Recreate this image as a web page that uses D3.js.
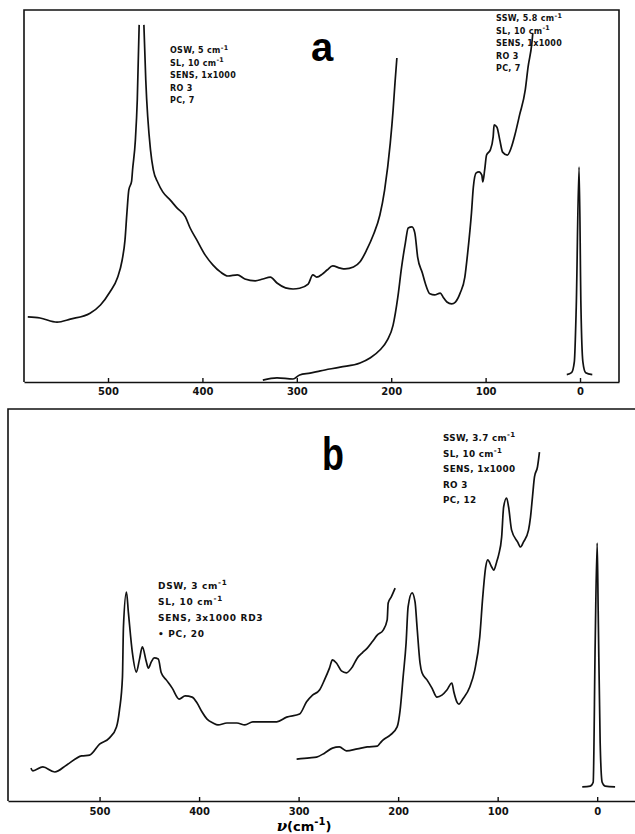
<!DOCTYPE html>
<html>
<head>
<meta charset="utf-8">
<script src="https://cdn.jsdelivr.net/npm/d3@7"></script>
<style>
  body { margin: 0; background: #fff; }
  svg { display: block; }
  .trace { fill: none; stroke: #111; stroke-width: 1.7; stroke-linejoin: round; }
  .frame { fill: none; stroke: #111; stroke-width: 1.6; }
  .note  { font-family: "DejaVu Sans", sans-serif; font-weight: bold; fill: #111; }
  .tick text { font-family: "DejaVu Sans", sans-serif; font-weight: bold; font-size: 10px; fill: #111; }
</style>
</head>
<body>
<div id="spectra"><svg></svg></div>
<script>
/** Data: [wavenumber cm-1, relative intensity 0-100] **/
var tickValues = [500, 400, 300, 200, 100, 0];

// Panel a, OSW run (peak goes off the paper near 465, hence the null)
var a_osw = [[585,17.5],[572,17.2],[554,16.1],[540,16.9],[519,18.5],[508,20.7],[498,24.2],[490,28.0],
    [485,32.8],[482,38.2],[480,45.4],[478,51.6],[475,54.0],[474,57.0],[471,65.1],[469,75.8],[467,96.0],
    [465,null],[462,96.0],[460,81.2],[455,62.4],[452,57.0],[447,53.5],[442,51.1],[434,48.9],[427,46.8],
    [418,44.4],[413,41.4],[406,38.2],[397,34.1],[389,31.5],[381,29.6],[373,28.5],[363,28.8],[355,27.7],
    [344,27.2],[336,27.7],[328,28.2],[321,26.6],[312,25.3],[304,25.0],[297,25.2],[288,26.3],[283,28.8],
    [279,28.2],[273,29.0],[268,30.1],[262,31.2],[254,30.6],[249,30.4],[240,30.9],[233,32.3],[226,35.5],
    [219,39.5],[212,44.9],[207,51.6],[201,64.2],[198,73.1],[196,80.4],[194,87.1]];

// Panel a, SSW run
var a_ssw = [[336,0.5],[321,1.1],[304,0.8],[297,1.9],[286,2.4],[275,3.0],[254,4.0],[233,5.1],[222,6.5],
    [212,8.6],[204,11.3],[198,15.3],[193,22.8],[189,30.9],[185,37.4],[182,41.4],[178,41.7],[175,40.1],
    [172,33.6],[167,29.3],[164,26.6],[159,23.7],[154,23.4],[148,23.9],[145,22.8],[141,21.5],[136,21.0],
    [132,21.5],[127,23.9],[122,28.2],[119,34.7],[115,45.4],[113,52.4],[110,56.2],[107,56.5],[104,55.6],
    [103,53.8],[101,57.0],[99,61.0],[95,62.4],[92,65.9],[91,69.1],[88,68.5],[85,65.1],[82,61.8],
    [77,61.0],[73,62.9],[69,66.4],[64,71.8],[58,78.5],[55,84.7],[51,91.1],[50,93.8]];

// Panel a, exciting line
var a_line = [[14,2.0],[9,2.5],[6,5.5],[4,20],[1,57.8],[-1,20],[-3,5.5],[-6,2.5],[-13,2.0]];

// Panel b, DSW run
var b_dsw = [[569,8.4],[567,7.7],[557,8.7],[545,7.4],[533,9.2],[518,11.5],[510,11.7],[500,14.5],
    [490,16.1],[483,18.9],[480,23.2],[477,31.6],[476,44.4],[473,53.3],[471,48.0],[467,37.8],[463,32.9],
    [460,36.0],[457,39.3],[453,35.5],[451,33.9],[448,35.5],[445,36.5],[441,36.2],[438,32.7],[433,30.9],
    [427,28.8],[420,26.0],[414,26.8],[407,26.5],[402,25.0],[397,22.7],[392,20.9],[386,19.9],[381,19.4],
    [372,19.9],[362,19.9],[354,19.4],[346,20.2],[332,20.2],[322,20.2],[312,21.4],[299,22.2],[292,25.3],
    [286,27.0],[279,28.3],[274,30.9],[269,33.9],[266,36.0],[262,35.2],[257,33.2],[252,32.7],[246,34.2],
    [241,36.5],[236,37.8],[231,39.0],[226,40.6],[221,42.3],[215,43.6],[211,46.2],[210,50.5],[207,52.0],
    [203,54.3]];

// Panel b, SSW run
var b_ssw = [[302,10.7],[289,11.0],[282,11.2],[274,12.2],[266,13.5],[259,13.8],[252,12.8],[241,13.3],
    [231,13.8],[221,14.0],[218,14.8],[215,15.6],[208,16.8],[201,18.9],[198,23.2],[195,31.6],[192,40.3],
    [190,49.5],[186,53.1],[183,50.8],[181,44.4],[178,35.2],[176,32.7],[171,30.9],[166,28.8],[161,26.5],
    [156,27.0],[151,28.3],[146,30.1],[144,27.8],[141,25.3],[139,24.7],[135,26.0],[128,29.1],[123,33.4],
    [118,41.8],[115,52.0],[112,59.7],[110,61.5],[106,59.7],[104,58.9],[101,61.0],[99,62.8],[96,67.3],
    [94,75.0],[91,77.3],[89,75.0],[86,69.1],[80,66.1],[77,64.8],[74,66.1],[69,69.1],[67,72.4],
    [65,77.6],[63,82.7],[60,85.2],[58,89.0]];

// Panel b, exciting line
var b_line = [[15,3.6],[7,3.8],[4,4.8],[2,40.3],[0,65.8],[-1,48.7],[-3,14.8],[-5,4.8],[-8,3.8],[-18,3.6]];

// Instrument settings written on the charts ("^" marks the cm-1 superscript)
var notes_a_osw = ["OSW, 5 cm^", "SL,  10 cm^", "SENS, 1x1000", "RO 3", "PC, 7"];
var notes_a_ssw = ["SSW, 5.8 cm^", "SL,  10 cm^", "SENS, 1x1000", "RO 3", "PC, 7"];
var notes_b_dsw = ["DSW, 3 cm^", "SL,  10 cm^", "SENS, 3x1000 RD3", "\u2022 PC, 20"];
var notes_b_ssw = ["SSW, 3.7 cm^", "SL,  10 cm^", "SENS, 1x1000", "RO 3", "PC, 12"];


/**
 * Writes a block of instrument notes, one line per entry.
 */
function writeNotes(svg, lines, x, y, step, size, spacing)
{
    var g = svg.append("g").attr("class", "note")
        .attr("font-size", size)
        .attr("letter-spacing", spacing);

    lines.forEach(function (line, i) {
        var t = g.append("text")
            .attr("x", x)
            .attr("y", y + i * step);
        var parts = line.split("^");
        t.append("tspan").text(parts[0]);
        if (parts.length > 1)
        {
            t.append("tspan")
                .attr("dy", -size * 0.4)
                .attr("font-size", size * 0.8)
                .text("-1");
        }
    });
}


/**
 * Draws one panel: frame, axis with inward ticks, and the traces.
 */
function drawPanel(svg, p)
{
    var xScale = d3.scaleLinear()
        .domain(p.xDomain)
        .range([p.left, p.right]);

    var yScale = d3.scaleLinear()
        .domain([0, 100])
        .range([p.bottom, p.top]);

    var line = d3.line()
        .defined(function (d) { return d[1] !== null; })
        .x(function (d) { return xScale(d[0]); })
        .y(function (d) { return yScale(d[1]); })
        .curve(d3.curveMonotoneX);

    // frame (panel b has no right edge)
    var fr = d3.path();
    fr.moveTo(p.left, p.bottom);
    fr.lineTo(p.left, p.top);
    fr.lineTo(p.right, p.top);
    if (p.closed) fr.lineTo(p.right, p.bottom);
    svg.append("path").attr("class", "frame").attr("d", fr.toString());

    var xAxis = d3.axisBottom(xScale)
        .tickValues(tickValues)
        .tickSizeInner(-4)
        .tickSizeOuter(0)
        .tickPadding(p.pad);

    var ax = svg.append("g")
        .attr("transform", "translate(0," + p.bottom + ")")
        .call(xAxis);
    ax.select(".domain").attr("stroke", "#111").attr("stroke-width", 1.6);
    ax.selectAll(".tick line").attr("stroke", "#111").attr("stroke-width", 1.4);

    p.traces.forEach(function (tr) {
        svg.append("path")
            .attr("class", "trace")
            .attr("d", line(tr));
    });
}


function drawModule_spectra()
{
    var mod_width = 635;
    var mod_height = 834;

    var svg = d3.select("#spectra").select("svg")
        .attr("width", mod_width)
        .attr("height", mod_height);

    drawPanel(svg, {
        xDomain: [589, -41.3], left: 24, right: 619, top: 10, bottom: 382,
        closed: true, pad: 6, traces: [a_osw, a_ssw, a_line]
    });

    drawPanel(svg, {
        xDomain: [592, -38], left: 8, right: 635, top: 409, bottom: 801,
        closed: false, pad: 7, traces: [b_dsw, b_ssw, b_line]
    });

    // big panel letters
    svg.append("text")
        .attr("x", 322).attr("y", 61)
        .attr("text-anchor", "middle")
        .style("font-family", "'Liberation Sans', Arial, sans-serif")
        .style("font-weight", "bold")
        .style("font-size", "40px")
        .text("a");

    svg.append("text")
        .attr("transform", "translate(333,470) scale(0.78,1)")
        .attr("text-anchor", "middle")
        .style("font-family", "'Liberation Sans', Arial, sans-serif")
        .style("font-weight", "bold")
        .style("font-size", "46px")
        .text("b");

    writeNotes(svg, notes_a_osw, 170, 53, 12.5, 8, 0.3);
    writeNotes(svg, notes_a_ssw, 496, 21, 12.5, 8, 0.3);
    writeNotes(svg, notes_b_dsw, 158, 589, 16, 9, 0.7);
    writeNotes(svg, notes_b_ssw, 443, 441, 15.5, 8.8, 0.3);

    // axis title
    var title = svg.append("text")
        .attr("x", 304).attr("y", 831)
        .attr("text-anchor", "middle")
        .style("font-family", "'DejaVu Serif', serif")
        .style("font-weight", "bold")
        .style("font-size", "15px");
    title.append("tspan").style("font-style", "italic").text("\u03bd");
    title.append("tspan").style("font-family", "'DejaVu Sans', sans-serif").style("font-size", "13px").text("(cm");
    title.append("tspan").attr("dy", -6).style("font-size", "10px").style("font-family", "'DejaVu Sans', sans-serif").text("-1");
    title.append("tspan").attr("dy", 6).style("font-family", "'DejaVu Sans', sans-serif").style("font-size", "13px").text(")");
}

drawModule_spectra();
</script>
</body>
</html>
